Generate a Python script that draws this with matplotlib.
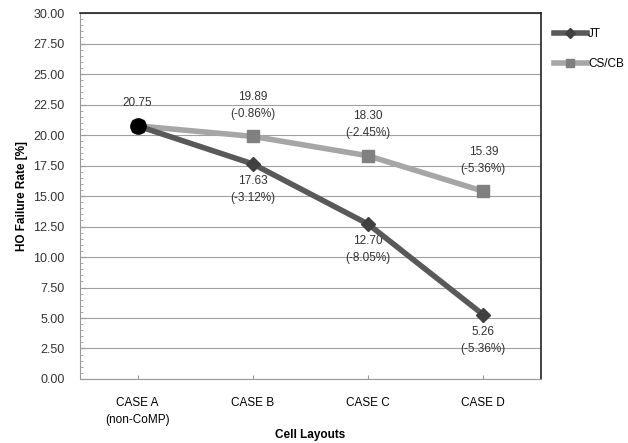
import matplotlib.pyplot as plt
from matplotlib.ticker import MultipleLocator

plt.rcParams['font.family'] = ['Liberation Sans', 'DejaVu Sans']

categories = ['CASE A\n(non-CoMP)', 'CASE B', 'CASE C', 'CASE D']
jt = [20.75, 17.63, 12.70, 5.26]
cscb = [20.75, 19.89, 18.30, 15.39]
jt_labels = ['', '17.63\n(-3.12%)', '12.70\n(-8.05%)', '5.26\n(-5.36%)']
cscb_labels = ['20.75', '19.89\n(-0.86%)', '18.30\n(-2.45%)', '15.39\n(-5.36%)']

fig = plt.figure(figsize=(6.28, 4.43), dpi=100)
ax = fig.add_axes([0.1274, 0.1445, 0.734, 0.826])

x = list(range(len(categories)))
ax.plot(x, cscb, color='#a6a6a6', lw=4, marker='s', ms=9,
        mfc='#808080', mec='#808080', label='CS/CB', zorder=3)
ax.plot(x, jt, color='#595959', lw=4, marker='D', ms=7,
        mfc='#404040', mec='#404040', label='JT', zorder=4)
ax.plot(x[0], jt[0], 'o', color='black', ms=11, zorder=5)

for i, t in enumerate(cscb_labels):
    if t:
        ax.annotate(t, (x[i], cscb[i]), xytext=(0, 12), textcoords='offset points',
                    ha='center', va='bottom', fontsize=8.5, color='#333333',
                    linespacing=1.55)
for i, t in enumerate(jt_labels):
    if t:
        ax.annotate(t, (x[i], jt[i]), xytext=(0, -8), textcoords='offset points',
                    ha='center', va='top', fontsize=8.5, color='#333333',
                    linespacing=1.55)

ax.set_xlim(-0.5, 3.5)
ax.set_ylim(0, 30)
ax.yaxis.set_major_locator(MultipleLocator(2.5))
ax.yaxis.set_minor_locator(MultipleLocator(0.5))
ax.set_yticklabels([f'{v:.2f}' for v in ax.get_yticks()])
ax.set_xticks(x)
ax.set_xticklabels(categories, fontsize=8.5, linespacing=1.55)
ax.tick_params(axis='y', labelsize=9, labelcolor='#333333', direction='in', length=4,
               color='#999999', pad=11)
ax.tick_params(axis='y', which='minor', direction='in', length=2, color='#999999')
ax.tick_params(axis='x', direction='in', length=3, color='#999999', pad=13)
ax.grid(axis='y', color='#a0a0a0', lw=0.8)
ax.set_axisbelow(True)

for s in ['left', 'bottom']:
    ax.spines[s].set_color('#999999')
for s in ['top', 'right']:
    ax.spines[s].set_color('#222222')
    ax.spines[s].set_linewidth(1.2)

fig.text(22 / 628, 0.5575, 'HO Failure Rate [%]', fontsize=8.5, fontweight='bold',
         rotation=90, ha='center', va='center')
fig.text(310 / 628, 1 - 435 / 443, 'Cell Layouts', fontsize=8.5, fontweight='bold',
         ha='center', va='center')

h, l = ax.get_legend_handles_labels()
fig.legend(h[::-1], l[::-1], loc='upper left', bbox_to_anchor=(0.865, 0.96),
           frameon=False, fontsize=8.5, handlelength=2.8, labelspacing=1.5,
           handletextpad=0.1, markerscale=0.7)

fig.savefig('out.png', dpi=100)
